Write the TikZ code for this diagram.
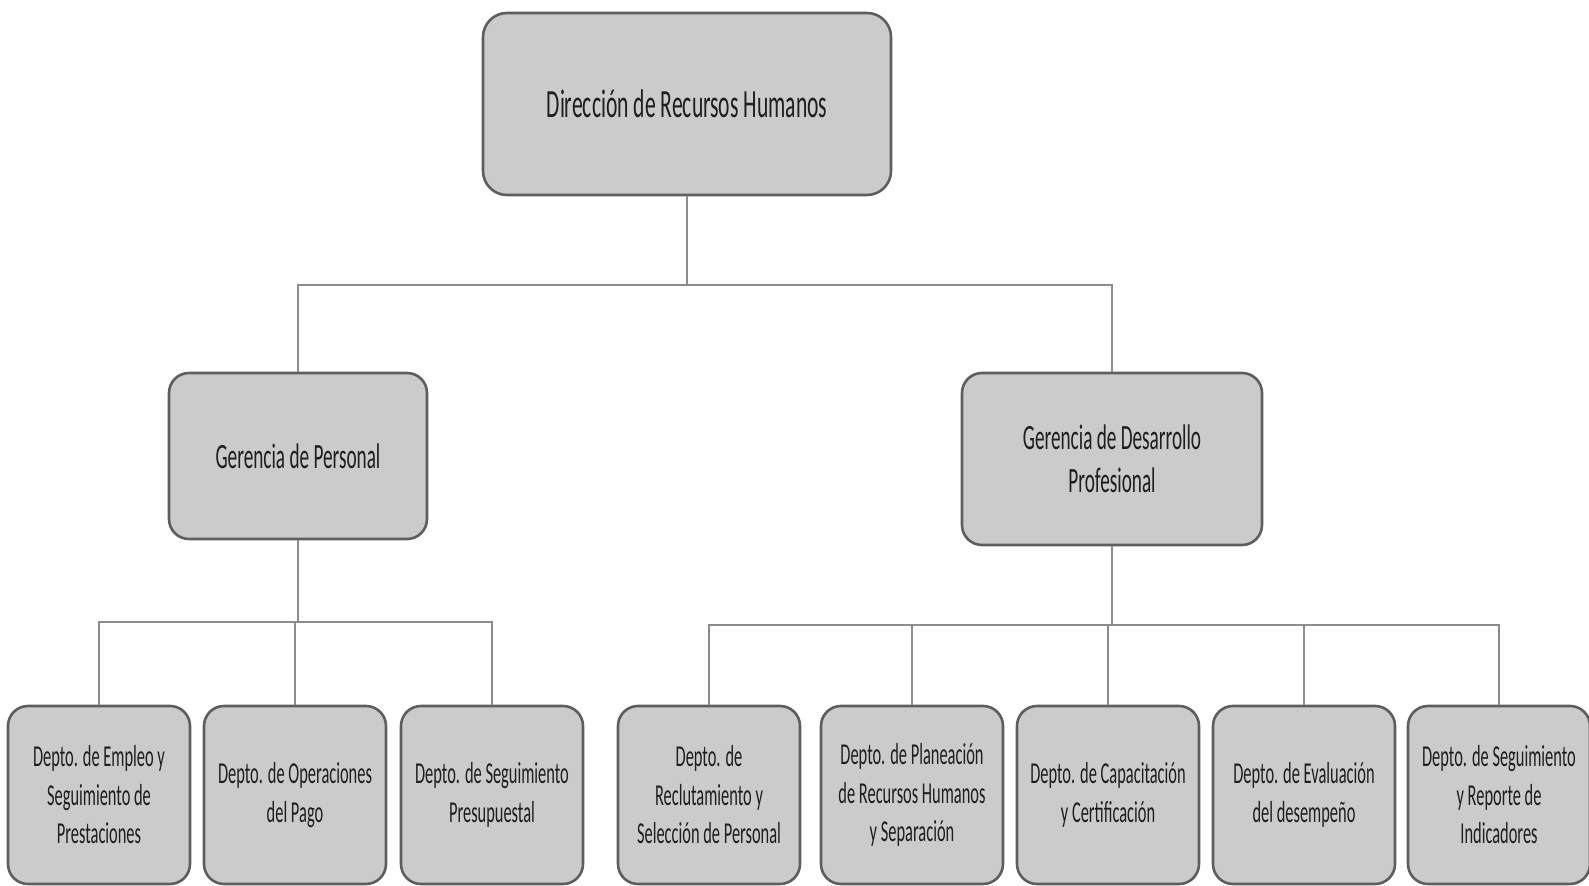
\documentclass[tikz,border=0pt]{standalone}
\usepackage{fontspec}
\setmainfont{Carlito}[FakeStretch=0.54]
\begin{document}
\begin{tikzpicture}[x=0.5pt,y=-0.5pt]
\definecolor{boxfill}{HTML}{CBCBCB}
\definecolor{boxline}{HTML}{5E5E5E}
\definecolor{linkline}{HTML}{8C8C8C}
\definecolor{inktext}{HTML}{1E1E1E}
\tikzset{
  unit/.style={draw=boxline, line width=1.3pt, fill=boxfill, text=inktext,
    align=center, inner sep=0pt},
  topbox/.style={unit, minimum width=204pt, minimum height=91pt,
    rounded corners=12pt, font=\fontsize{20}{24}\selectfont},
  midbox/.style={unit, minimum width=129pt, minimum height=83pt,
    rounded corners=10pt, font=\fontsize{17.8}{21.3}\selectfont},
  deptbox/.style={unit, minimum width=91pt, minimum height=89pt,
    rounded corners=10pt, font=\fontsize{15.2}{19.25}\selectfont},
  conn/.style={draw=linkline, line width=0.8pt},
}
\useasboundingbox (0,0) rectangle (1589,886);

% levels
\node[topbox] (dir) at (687,104) {Dirección de Recursos Humanos};
\node[midbox] (gp) at (298,456) {Gerencia de Personal};
\node[midbox, minimum width=150pt, minimum height=86pt] (gdp) at (1112,459)
  {Gerencia de Desarrollo\\Profesional};

\node[deptbox] (d1) at (99,795)  {Depto. de Empleo y\\Seguimiento de\\Prestaciones};
\node[deptbox] (d2) at (295,795) {Depto. de Operaciones\\del Pago};
\node[deptbox] (d3) at (492,795) {Depto. de Seguimiento\\Presupuestal};
\node[deptbox] (d4) at (709,795) {Depto. de\\Reclutamiento y\\Selección de Personal};
\node[deptbox] (d5) at (912,795) {Depto. de Planeación\\de Recursos Humanos\\y Separación};
\node[deptbox] (d6) at (1108,795) {Depto. de Capacitación\\y Certificación};
\node[deptbox] (d7) at (1304,795) {Depto. de Evaluación\\del desempeño};
\node[deptbox] (d8) at (1499,795) {Depto. de Seguimiento\\y Reporte de\\Indicadores};

% connectors
\coordinate (bus0) at (0,285);
\coordinate (bus1) at (0,622);
\coordinate (bus2) at (0,625);
\foreach \c in {gp,gdp}
  \draw[conn] (dir.south) -- (dir.south |- bus0) -| (\c.north);
\foreach \c in {d1,d2,d3}
  \draw[conn] (gp.south) -- (gp.south |- bus1) -| (\c.north);
\foreach \c in {d4,d5,d6,d7,d8}
  \draw[conn] (gdp.south) -- (gdp.south |- bus2) -| (\c.north);
\end{tikzpicture}
\end{document}
